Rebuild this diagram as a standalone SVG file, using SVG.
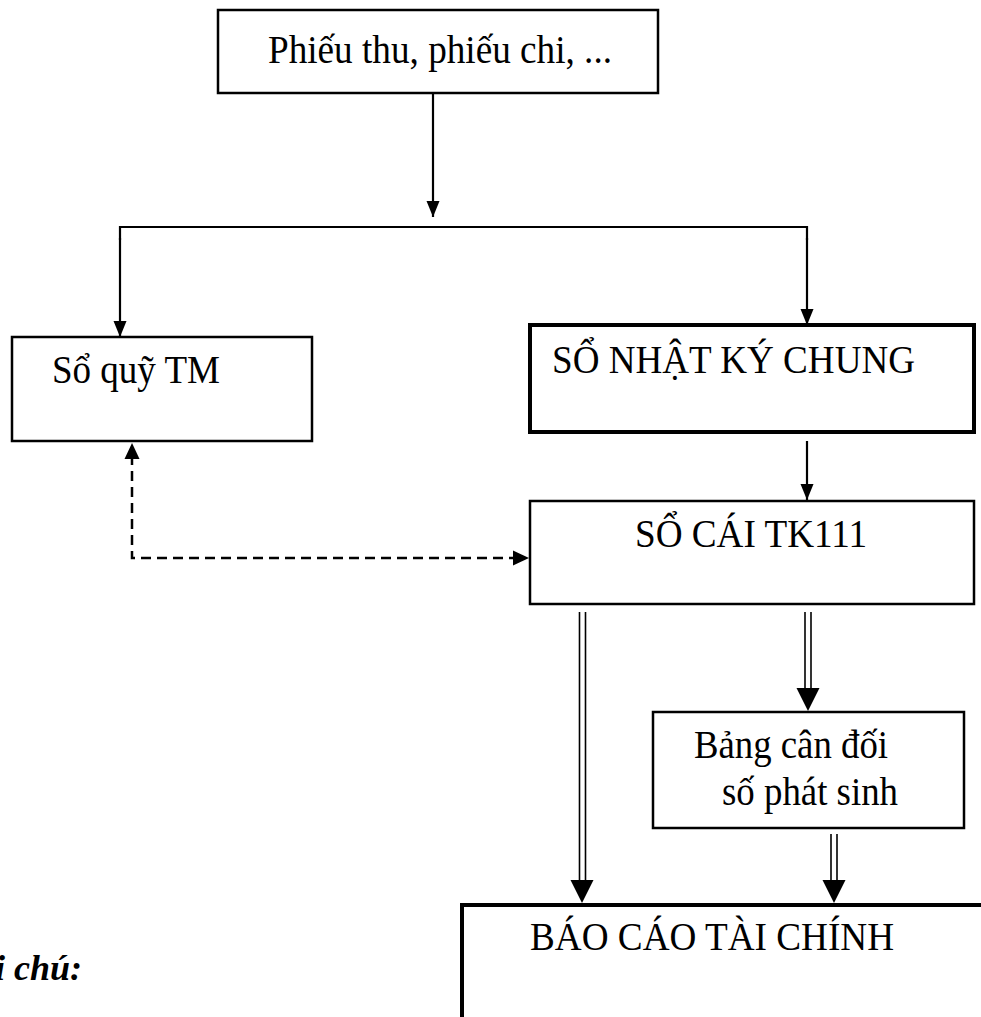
<svg xmlns="http://www.w3.org/2000/svg" width="981" height="1017" viewBox="0 0 981 1017">
<style>
  .box{fill:#fff;stroke:#000;stroke-width:2.5}
  .thick{fill:#fff;stroke:#000;stroke-width:4}
  .t{font-family:"Liberation Serif","Times New Roman",serif;font-size:40px;fill:#000}
  .note{font-family:"Liberation Serif","Times New Roman",serif;font-size:36px;font-weight:bold;font-style:italic;fill:#000}
  .ln{fill:none;stroke:#000;stroke-width:2.2}
  .dash{fill:none;stroke:#000;stroke-width:2.5;stroke-dasharray:10 6}
  .dbl{fill:none;stroke:#000;stroke-width:1.6}
</style>
<defs>
  <marker id="ah" markerUnits="userSpaceOnUse" markerWidth="16" markerHeight="16" viewBox="0 0 16 16" refX="16" refY="8" orient="auto">
    <path d="M0,1.5 L16,8 L0,14.5 Z" fill="#000"/>
  </marker>
</defs>
<rect width="981" height="1017" fill="#fff"/>

<g id="connectors">
  <line class="ln" x1="433" y1="93" x2="433" y2="217" marker-end="url(#ah)"/>
  <polyline class="ln" points="120,240 120,227 807,227 807,240"/>
  <line class="ln" x1="120" y1="238" x2="120" y2="337" marker-end="url(#ah)"/>
  <line class="ln" x1="807" y1="238" x2="807" y2="325" marker-end="url(#ah)"/>
  <line class="ln" x1="807" y1="441" x2="807" y2="500" marker-end="url(#ah)"/>
  <polyline class="dash" points="132,455 132,558 515,558"/>
  <path d="M124.5,459 L132,443 L139.5,459 Z" fill="#000"/>
  <path d="M513,550.5 L529,558 L513,565.5 Z" fill="#000"/>
  <line class="dbl" x1="579.5" y1="612" x2="579.5" y2="882"/>
  <line class="dbl" x1="585.5" y1="612" x2="585.5" y2="882"/>
  <path d="M570.5,880 L593.5,880 L582,903 Z" fill="#000"/>
  <line class="dbl" x1="805" y1="612" x2="805" y2="690"/>
  <line class="dbl" x1="811" y1="612" x2="811" y2="690"/>
  <path d="M796.5,688 L819.5,688 L808,711 Z" fill="#000"/>
  <line class="dbl" x1="831" y1="834" x2="831" y2="882"/>
  <line class="dbl" x1="837" y1="834" x2="837" y2="882"/>
  <path d="M822.5,880 L845.5,880 L834,903 Z" fill="#000"/>
</g>

<g id="phieu">
  <rect class="box" x="218" y="10" width="440" height="83"/>
  <text class="t" x="268" y="63" textLength="344" lengthAdjust="spacingAndGlyphs">Phiếu thu, phiếu chi, ...</text>
</g>
<g id="soquy">
  <rect class="box" x="12" y="337" width="300" height="104"/>
  <text class="t" x="52" y="383" textLength="168" lengthAdjust="spacingAndGlyphs">Sổ quỹ TM</text>
</g>
<g id="nkc">
  <rect class="thick" x="530" y="325" width="444" height="107"/>
  <text class="t" x="552" y="373" textLength="363" lengthAdjust="spacingAndGlyphs">SỔ NHẬT KÝ CHUNG</text>
</g>
<g id="socai">
  <rect class="box" x="530" y="501" width="444" height="103"/>
  <text class="t" x="635" y="547" textLength="232" lengthAdjust="spacingAndGlyphs">SỔ CÁI TK111</text>
</g>
<g id="bangcandoi">
  <rect class="box" x="653" y="712" width="311" height="116"/>
  <text class="t" x="694" y="758" textLength="194" lengthAdjust="spacingAndGlyphs">Bảng cân đối</text>
  <text class="t" x="722" y="805" textLength="176" lengthAdjust="spacingAndGlyphs">số phát sinh</text>
</g>
<g id="bctc">
  <rect class="thick" x="462" y="905" width="540" height="140"/>
  <text class="t" x="530" y="950" textLength="364" lengthAdjust="spacingAndGlyphs">BÁO CÁO TÀI CHÍNH</text>
</g>
<g id="ghichu">
  <text class="note" x="82" y="980" text-anchor="end">i chú:</text>
</g>
</svg>
